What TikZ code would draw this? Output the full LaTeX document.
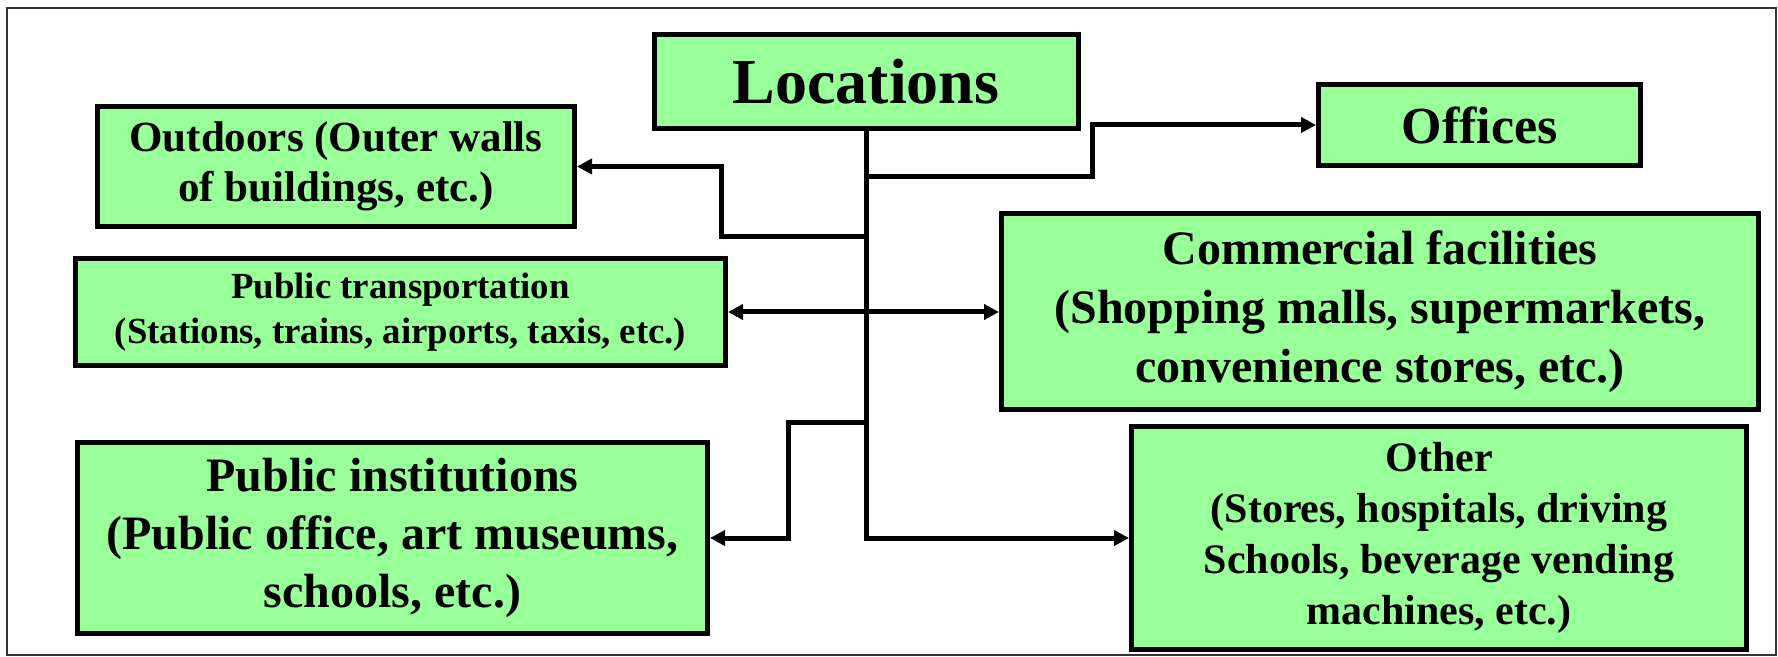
\documentclass[tikz,border=0pt]{standalone}
\usepackage{fontspec}
\setmainfont{Liberation Serif}
\usetikzlibrary{arrows.meta}
\definecolor{boxgreen}{RGB}{153,255,153}
\begin{document}
\begin{tikzpicture}[x=0.5pt,y=-0.5pt,
  box/.style={draw=black, fill=boxgreen, line width=2.5pt, align=center, inner sep=0pt},
  link/.style={line width=2.5pt, -{Triangle[length=7.5pt,width=7.5pt]}},
  both/.style={line width=2.5pt, {Triangle[length=7.5pt,width=7.5pt]}-{Triangle[length=7.5pt,width=7.5pt]}}]
\useasboundingbox (0,0) rectangle (1778,657);
\draw[line width=1pt, color=black!80] (7,8) rectangle (1776,655);
\node[box, minimum width=212pt, minimum height=47pt, font=\bfseries\fontsize{32}{38}\selectfont] (loc) at (866,81.5) {Locations};
\node[box, minimum width=238.5pt, minimum height=60pt, font=\bfseries\fontsize{21.5}{25}\selectfont] (out) at (336,166.5) {Outdoors (Outer walls\\ of buildings, etc.)};
\node[box, minimum width=325pt, minimum height=53.5pt, font=\bfseries\fontsize{18.4}{22.5}\selectfont] (trans) at (400.5,312) {Public transportation\\ (Stations, trains, airports, taxis, etc.)};
\node[box, minimum width=315pt, minimum height=95.5pt, font=\bfseries\fontsize{24}{29}\selectfont] (inst) at (392.5,538) {Public institutions\\ (Public office, art museums,\\ schools, etc.)};
\node[box, minimum width=161pt, minimum height=40.5pt, font=\bfseries\fontsize{26}{30}\selectfont] (off) at (1479.5,125) {Offices};
\node[box, minimum width=378.5pt, minimum height=98pt, font=\bfseries\fontsize{24}{29.5}\selectfont] (com) at (1380,312) {Commercial facilities\\ (Shopping malls, supermarkets,\\ convenience stores, etc.)};
\node[box, minimum width=307.5pt, minimum height=111.5pt, font=\bfseries\fontsize{21}{25.5}\selectfont] (oth) at (1439,538) {Other\\ (Stores, hospitals, driving\\ Schools, beverage vending\\ machines, etc.)};
\coordinate (joff) at (866,177);
\coordinate (jout) at (866,237);
\coordinate (jinst) at (866,423);
\draw[link] (loc.south) |- (oth.west);
\draw[link] (joff) -| (1092,125) -- (off.west);
\draw[link] (jout) -| (721,166.5) -- (out.east);
\draw[link] (jinst) -| (788,538) -- (inst.east);
\draw[both] (trans.east) -- (com.west);
\end{tikzpicture}
\end{document}
